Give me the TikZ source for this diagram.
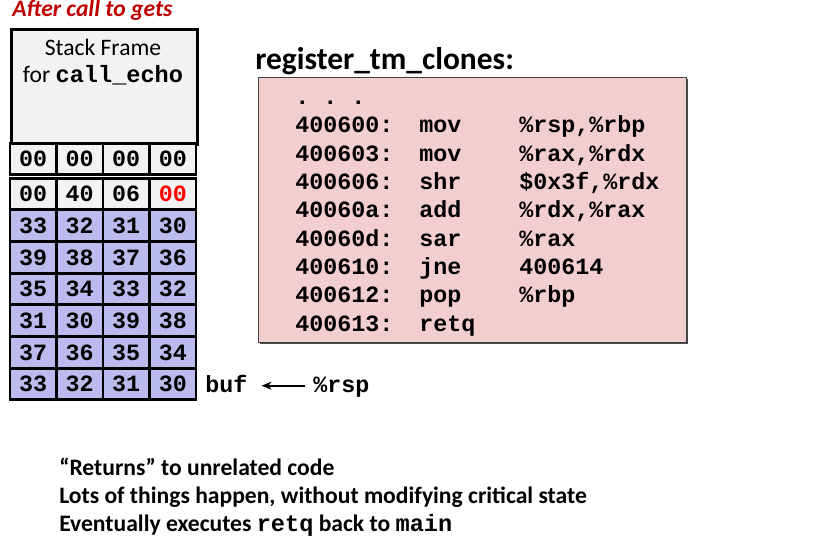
\documentclass[tikz,border=0pt]{standalone}
\usepackage{fontspec}
\setmainfont{Carlito}
\setmonofont{Liberation Mono}
\usetikzlibrary{arrows.meta,calc,positioning,shadows}
\definecolor{framegray}{RGB}{242,242,242}
\definecolor{bufblue}{RGB}{187,187,238}
\definecolor{codepink}{RGB}{242,206,206}
\definecolor{darkred}{RGB}{192,0,0}
\newcommand{\slidesize}{\fontsize{17.7}{21}\selectfont}
\newcommand{\codesize}{\fontsize{17.5}{21}\selectfont}

\begin{document}
\begin{tikzpicture}[x=0.75pt,y=-0.75pt,
    cell/.style={draw, line width=2.1pt, minimum width=34.9pt, minimum height=23.8pt, inner sep=0pt, font=\codesize\ttfamily\bfseries},
    codeline/.style={anchor=base west, inner sep=0pt, font=\codesize\ttfamily\bfseries},
    slidetext/.style={anchor=base west, inner sep=0pt, font=\slidesize\bfseries}]
  \useasboundingbox (0,0) rectangle (835,552);

  \node[slidetext, font=\slidesize\bfseries\itshape, text=darkred] (title) at (12,16.5) {After call to gets};

  % Stack frame of the caller
  \node[draw, line width=2.1pt, fill=framegray, minimum width=139.5pt, minimum height=86.25pt, anchor=north west] (frame) at (10,28) {};
  \node[anchor=base, inner sep=0pt, font=\slidesize] (frametop) at (103,56) {Stack Frame};
  \node[anchor=base, inner sep=0pt, font=\slidesize] (framebot) at (103,83) {for \texttt{\bfseries call\_echo}};

  % Stack cells, one row per 4 bytes
  \foreach \r/\fc/\a/\b/\c/\d in {1/framegray/00/00/00/00, 2/framegray/00/40/06/{\textcolor{red}{00}},
      3/bufblue/33/32/31/30, 4/bufblue/39/38/37/36, 5/bufblue/35/34/33/32,
      6/bufblue/31/30/39/38, 7/bufblue/37/36/35/34, 8/bufblue/33/32/31/30} {
    % Compute the row centre
    \pgfmathsetmacro{\yc}{\r==1 ? 159 : 194+(\r-2)*31.67}
    \foreach \col/\v in {1/\a, 2/\b, 3/\c, 4/\d}
      \node[cell, fill=\fc] (c\r\col) at ({33.25+(\col-1)*46.5},\yc) {\v};
  }

  \node[codeline] (buf) at (205,392) {buf};
  \node[codeline] (rsp) at (313,392) {\%rsp};
  \draw[-{Stealth[length=7.5pt,width=6pt]}, line width=1.8pt] ($(rsp.base west)+(-8,-6.3)$) -- ($(buf.base east)+(14,-6.3)$);

  % Disassembly of the gadget
  \node[anchor=base west, inner sep=0pt, font=\fontsize{23.6}{28}\selectfont\bfseries] (fname) at (255,70) {register\_tm\_clones:};
  \node[draw=black!75, fill=codepink, minimum width=321pt, minimum height=198.75pt, anchor=north west,
        drop shadow={shadow xshift=1.5pt, shadow yshift=-1.5pt, opacity=1, fill=black!70}] (codebox) at (258,77) {};
  \node[codeline] (dots) at (295,104.5) {. . .};
  \foreach \i/\addr/\op/\arg in {1/400600:/mov/{\%rsp,\%rbp}, 2/400603:/mov/{\%rax,\%rdx},
      3/400606:/shr/{\$0x3f,\%rdx}, 4/40060a:/add/{\%rdx,\%rax}, 5/40060d:/sar/\%rax,
      6/400610:/jne/400614, 7/400612:/pop/\%rbp, 8/400613:/retq/{}} {
    \pgfmathsetmacro{\yb}{133+(\i-1)*28.3}
    \node[codeline] (addr\i) at (295,\yb) {\addr};
    \node[codeline] (op\i) at (419,\yb) {\op};
    \node[codeline] (arg\i) at (519,\yb) {\arg};
  }

  % Notes below
  \node[slidetext] (note1) at (59,475) {“Returns” to unrelated code};
  \node[slidetext] (note2) at (59,503) {Lots of things happen, without modifying critical state};
  \node[slidetext] (note3) at (59,531) {Eventually executes \texttt{retq} back to \texttt{main}};
\end{tikzpicture}
\end{document}
